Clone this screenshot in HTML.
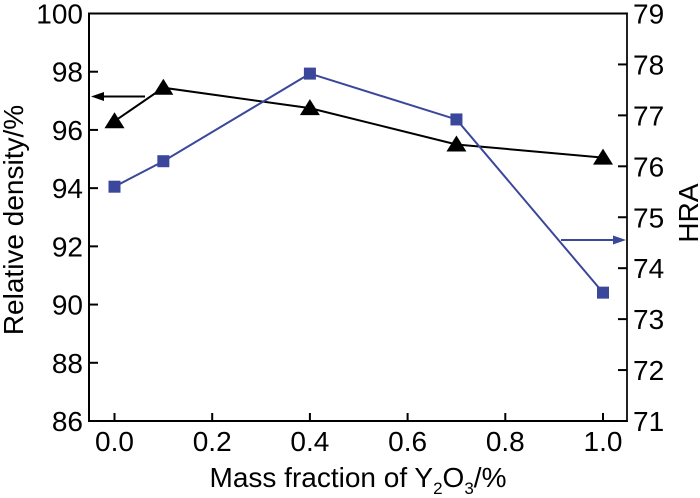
<!DOCTYPE html>
<html><head><meta charset="utf-8"><style>
html,body{margin:0;padding:0;background:#fff;}
svg{display:block;font-family:"Liberation Sans",Arial,sans-serif;}
</style></head><body>
<svg id="chart" width="700" height="498" viewBox="0 0 700 498"></svg>
<script>
const xValues=[0,0.1,0.4,0.7,1.0];
const densityValues=[96.3,97.45,96.75,95.5,95.05];
const hraValues=[75.6,76.1,77.82,76.92,73.52];
const xTicks=[0,0.2,0.4,0.6,0.8,1.0];
const xTickLabels=["0.0","0.2","0.4","0.6","0.8","1.0"];
const leftTicks=[86,88,90,92,94,96,98,100];
const rightTicks=[71,72,73,74,75,76,77,78,79];

const L=89,R=627,T=13.5,B=421;
const X=v=>114.5+v*488.5;
const YL=v=>T+(100-v)/14*(B-T);
const YR=v=>T+(79-v)/8*(B-T);
const svg=document.getElementById('chart');
const NS='http://www.w3.org/2000/svg';
function mk(tag,attrs,parent){const e=document.createElementNS(NS,tag);for(const k in attrs)e.setAttribute(k,attrs[k]);(parent||svg).appendChild(e);return e;}

const blue='#3a479a';
const FS=28;
let e=mk('rect',{x:L,y:T,width:R-L,height:B-T,fill:'none',stroke:'#000','stroke-width':2});


e=mk('line',{x1:R,y1:T,x2:R,y2:B,stroke:'#222','stroke-width':2});



xTicks.forEach((v,i)=>{
  const t=mk('line',{x1:X(v),y1:B,x2:X(v),y2:B-8,stroke:'#000','stroke-width':2});
  
  
  const l=mk('text',{x:X(v),y:B+30,'font-size':FS,'text-anchor':'middle'});
  l.textContent=xTickLabels[i];
  
  
});
leftTicks.forEach(v=>{
  const t=mk('line',{x1:L,y1:YL(v),x2:L+9,y2:YL(v),stroke:'#000','stroke-width':2});
  
  
  const l=mk('text',{x:L-6,y:YL(v)+10,'font-size':FS,'text-anchor':'end'});
  l.textContent=v;
  
  
});
rightTicks.forEach(v=>{
  const t=mk('line',{x1:R,y1:YR(v),x2:R-9,y2:YR(v),stroke:'#000','stroke-width':2});
  
  
  const l=mk('text',{x:R+6,y:YR(v)+10,'font-size':FS,'text-anchor':'start'});
  l.textContent=v;
  
  
});

e=mk('polyline',{points:xValues.map((x,i)=>X(x)+','+YL(densityValues[i])).join(' '),fill:'none',stroke:'#000','stroke-width':2});


xValues.forEach((x,i)=>{
  const cx=X(x),cy=YL(densityValues[i]);
  const p=mk('polygon',{points:`${cx},${cy-9} ${cx-10},${cy+7} ${cx+10},${cy+7}`,fill:'#000'});
  
  
});
e=mk('polyline',{points:xValues.map((x,i)=>X(x)+','+YR(hraValues[i])).join(' '),fill:'none',stroke:blue,'stroke-width':2});


xValues.forEach((x,i)=>{
  const cx=X(x),cy=YR(hraValues[i]);
  const p=mk('rect',{x:cx-6,y:cy-6,width:12,height:12,fill:blue});
  
  
});

e=mk('line',{x1:145,y1:96.5,x2:100,y2:96.5,stroke:'#000','stroke-width':2});


e=mk('polygon',{points:'91,96.5 104,92 104,101',fill:'#000'});


e=mk('line',{x1:561,y1:240,x2:616,y2:240,stroke:blue,'stroke-width':2});


e=mk('polygon',{points:'626,240 613,235.5 613,244.5',fill:blue});



e=mk('text',{x:0,y:0,'font-size':FS,'text-anchor':'middle',transform:'translate(23,220) rotate(-90)'});
e.textContent='Relative density/%';


e=mk('text',{x:0,y:0,'font-size':FS,'text-anchor':'middle',transform:'translate(698,213) rotate(-90)'});
e.textContent='HRA';


e=mk('text',{x:358,y:487,'font-size':FS,'text-anchor':'middle'});
e.innerHTML='Mass fraction of Y<tspan font-size="17" dy="7">2</tspan><tspan dy="-7">O</tspan><tspan font-size="17" dy="7">3</tspan><tspan dy="-7">/%</tspan>';


</script>
</body></html>
